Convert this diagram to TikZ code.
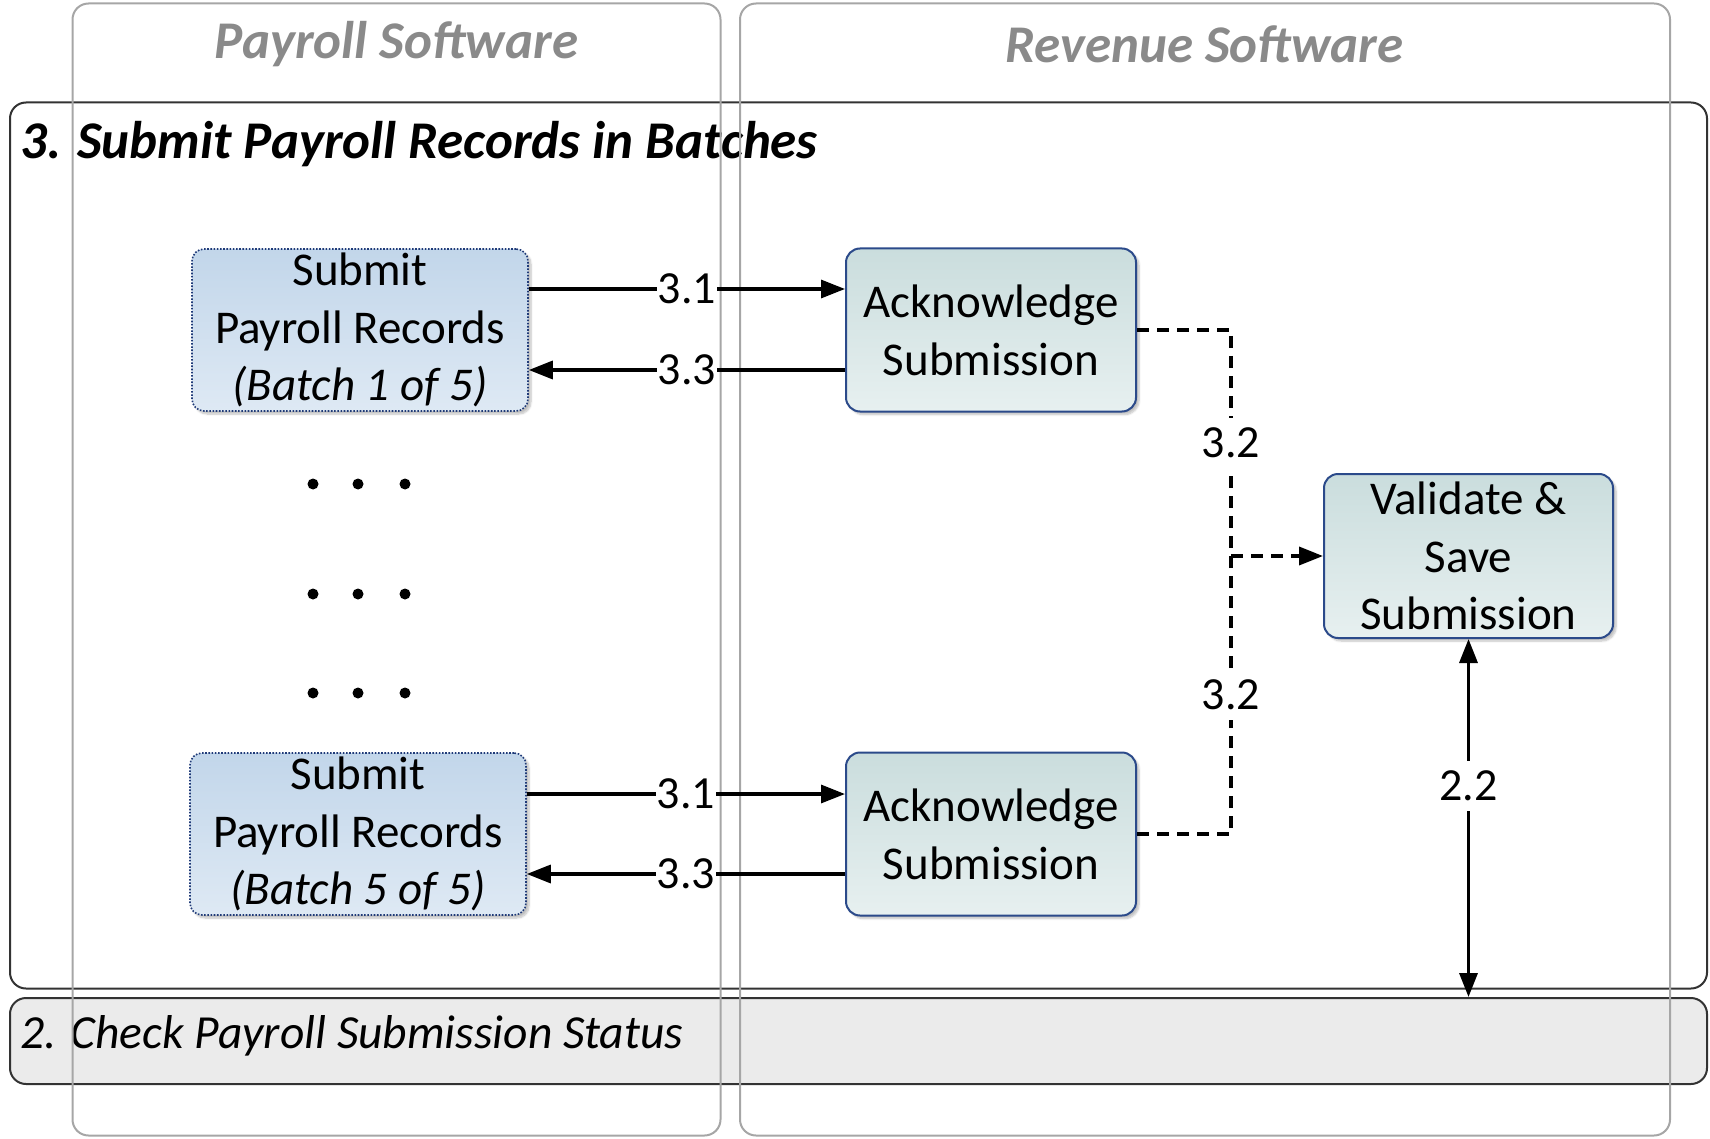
\documentclass[tikz,border=0pt]{standalone}
\usepackage{fontspec}
\setmainfont{Carlito}
\usetikzlibrary{arrows.meta,shadows.blur}

\definecolor{lanegray}{HTML}{A6A6A6}
\definecolor{lanetext}{HTML}{8A8A8A}
\definecolor{framegray}{HTML}{333333}
\definecolor{statusfill}{HTML}{EBEBEB}
\definecolor{subtop}{HTML}{C2D6EA}
\definecolor{subbot}{HTML}{DEE9F4}
\definecolor{subline}{HTML}{1F3A78}
\definecolor{acktop}{HTML}{CADDDD}
\definecolor{ackbot}{HTML}{E7F0F0}
\definecolor{ackline}{HTML}{2B4A8A}

\begin{document}
\begin{tikzpicture}[x=1pt,y=-1pt,
  lane/.style={draw=lanegray, line width=2pt, rounded corners=16pt, inner sep=0pt},
  frame/.style={draw=framegray, line width=2pt, rounded corners=16pt, inner sep=0pt},
  lanetitle/.style={font=\fontsize{53}{60}\selectfont\bfseries\itshape, text=lanetext, inner sep=0pt},
  frametitle/.style={anchor=west, inner sep=0pt},
  boxtext/.style={font=\fontsize{47}{57.8}\selectfont, align=center, inner sep=0pt},
  softshadow/.style={blur shadow={shadow xshift=3pt, shadow yshift=-3pt, shadow blur steps=6, shadow opacity=25}},
  submitbox/.style={boxtext, draw=subline, line width=1.6pt, dash pattern=on 1.6pt off 1.6pt,
    rounded corners=12pt, top color=subtop, bottom color=subbot,
    minimum width=336pt, minimum height=162pt, softshadow},
  taskbox/.style={boxtext, draw=ackline, line width=2pt, rounded corners=14pt,
    top color=acktop, bottom color=ackbot, minimum width=290pt, minimum height=163pt, softshadow},
  tip/.style={-{Triangle[length=24pt,width=18pt]}},
  arr/.style={line width=3.3pt, tip},
  dblarr/.style={line width=3.3pt, {Triangle[length=24pt,width=18pt]}-{Triangle[length=24pt,width=18pt]}},
  dasharr/.style={line width=3.5pt, dash pattern=on 12pt off 8pt},
  lbl/.style={fill=white, inner xsep=1pt, inner ysep=10pt, font=\fontsize{46}{50}\selectfont},
  dot/.style={circle, fill=black, inner sep=0pt, minimum size=11pt},
]
\useasboundingbox (0,0) rectangle (1710,1139);

% process frames
\node[frame, minimum width=1697pt, minimum height=886pt] (batches) at (858.5,545.5) {};
\node[frame, fill=statusfill, minimum width=1697pt, minimum height=86pt] (status) at (858.5,1041) {};
\node[frametitle, font=\fontsize{53}{60}\selectfont\bfseries\itshape] (batchestitle) at (20,144) {3. Submit Payroll Records in Batches};
\node[frametitle, font=\fontsize{47.5}{55}\selectfont\itshape] (statustitle) at (20,1036) {2. Check Payroll Submission Status};

% swim lanes
\node[lane, minimum width=648pt, minimum height=1132pt] (payroll) at (396.5,569.5) {};
\node[lane, minimum width=930pt, minimum height=1132pt] (revenue) at (1205,569.5) {};
\node[lanetitle] (payrolltitle) at (396.5,44) {Payroll Software};
\node[lanetitle] (revenuetitle) at (1204.5,44) {Revenue Software};

% tasks
\node[submitbox] (sub1) at (360,330) {Submit\\Payroll Records\\\textit{(Batch 1 of 5)}};
\node[submitbox] (sub5) at (358,834) {Submit\\Payroll Records\\\textit{(Batch 5 of 5)}};
\node[taskbox] (ack1) at (991,330) {Acknowledge\\Submission};
\node[taskbox] (ack5) at (991,834) {Acknowledge\\Submission};
\node[taskbox, minimum width=289pt, minimum height=164pt] (valid) at (1468.5,556) {Validate \&\\Save\\Submission};

% intermediate batches
\foreach \r/\yy in {1/484,2/594,3/693}
  \foreach \c/\xx in {1/313,2/358,3/405}
    \node[dot] (dot\r\c) at (\xx,\yy) {};

% batch messages
\draw[arr] ([yshift=41pt]sub1.east) -- node[lbl] (l31a) {3.1} ([yshift=41pt]ack1.west);
\draw[arr] ([yshift=-40pt]ack1.west) -- node[lbl] (l33a) {3.3} ([yshift=-40pt]sub1.east);
\draw[arr] ([yshift=40pt]sub5.east) -- node[lbl] (l31b) {3.1} ([yshift=40pt]ack5.west);
\draw[arr] ([yshift=-40pt]ack5.west) -- node[lbl] (l33b) {3.3} ([yshift=-40pt]sub5.east);

% forwarding to validation
\coordinate (join) at (1231,556);
\draw[dasharr] (ack1.east) -| node[lbl, pos=0.75] (l32a) {3.2} (join);
\draw[dasharr] (ack5.east) -| node[lbl, pos=0.75] (l32b) {3.2} (join);
\draw[dasharr, tip] (join) -- (valid.west);

% status check
\draw[dblarr] (valid.south) -- node[lbl, pos=0.41] (l22) {2.2} (valid.south |- status.north);
\end{tikzpicture}
\end{document}
